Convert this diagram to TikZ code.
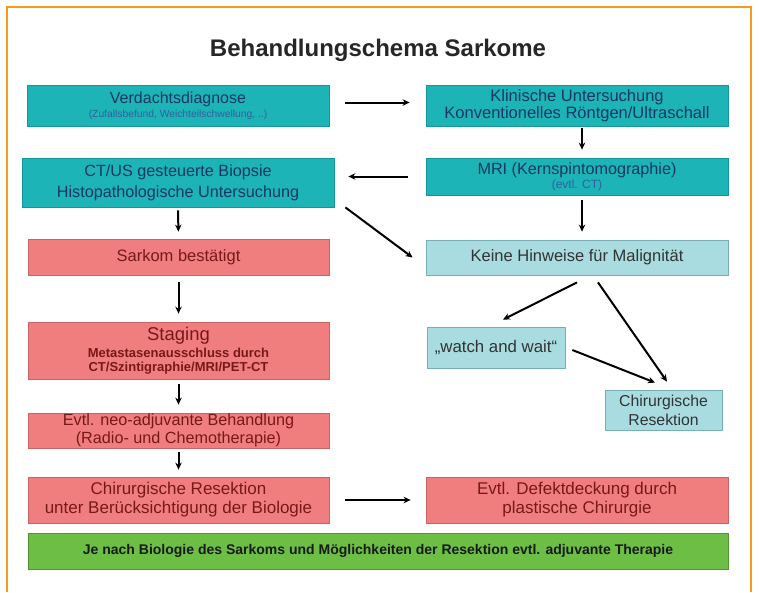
\documentclass[tikz,border=0pt]{standalone}
\usepackage{fontspec}
\setmainfont{Liberation Sans}
\usetikzlibrary{arrows.meta,calc}
\definecolor{tealbox}{RGB}{28,180,182}
\definecolor{tealedge}{RGB}{20,150,155}
\definecolor{lightteal}{RGB}{168,220,224}
\definecolor{lighttealedge}{RGB}{120,175,180}
\definecolor{salmon}{RGB}{240,126,126}
\definecolor{salmonedge}{RGB}{200,100,100}
\definecolor{greenbox}{RGB}{108,190,68}
\definecolor{greenedge}{RGB}{80,150,50}
\definecolor{navy}{RGB}{25,55,100}
\definecolor{subblue}{RGB}{50,95,160}
\definecolor{darkred}{RGB}{120,25,25}
\definecolor{framecol}{RGB}{247,155,30}
\tikzset{
  boxbase/.style={rectangle, inner sep=0pt, align=center, line width=0.8pt},
  tbox/.style={boxbase, fill=tealbox, draw=tealedge, text=navy},
  lbox/.style={boxbase, fill=lightteal, draw=lighttealedge, text=black!80},
  sbox/.style={boxbase, fill=salmon, draw=salmonedge, text=darkred},
  gbox/.style={boxbase, fill=greenbox, draw=greenedge, text=black!90},
  arr/.style={line width=2pt, -{Stealth[length=7pt,width=6.5pt]}},
  txt/.style={font=\fontsize{16.5}{19}\selectfont}
}
\begin{document}
\begin{tikzpicture}[x=1pt,y=-1pt]
\useasboundingbox (0,0) rectangle (759,592);
% frame
\draw[framecol, line width=2.5pt] (7,592) -- (7,7) -- (751,7) -- (751,592);
% title
\node[font=\fontsize{24}{28}\selectfont\bfseries, text=black!85] (title) at (378,50) {Behandlungschema Sarkome};
% boxes
\node[tbox, minimum width=302pt, minimum height=41pt] (v) at (178,105.5)
  {\fontsize{16}{17}\selectfont Verdachtsdiagnose\\[2pt]\fontsize{10.3}{12}\selectfont\color{subblue}(Zufallsbefund, Weichteilschwellung, ..)};
\node[tbox, minimum width=302pt, minimum height=41pt] (k) at (577,105.5)
  {\fontsize{16.5}{18.5}\selectfont Klinische Untersuchung\\[0.5pt]\fontsize{16.5}{18.5}\selectfont Konventionelles Röntgen/Ultraschall};
\node[tbox, font=\fontsize{16.2}{21}\selectfont, minimum width=312pt, minimum height=49pt] (ct) at (178,182.5)
  {CT/US gesteuerte Biopsie\\Histopathologische Untersuchung};
\node[tbox, minimum width=302pt, minimum height=37pt] (mri) at (577,176.5)
  {\fontsize{16.2}{17}\selectfont MRI (Kernspintomographie)\\[1pt]\fontsize{12}{13}\selectfont\color{subblue}(evtl. CT)};
\node[lbox, txt, minimum width=302pt, minimum height=35pt] (keine) at (577,257.5)
  {Keine Hinweise für Malignität};
\node[sbox, txt, minimum width=301pt, minimum height=36pt] (sark) at (178.5,257)
  {Sarkom bestätigt};
\node[sbox, minimum width=301pt, minimum height=57pt] (stag) at (178.5,350.5)
  {\fontsize{18.5}{20}\selectfont Staging\\[3pt]\fontsize{13}{15}\selectfont\bfseries Metastasenausschluss durch\\[2pt]\fontsize{13}{15}\selectfont\bfseries CT/Szintigraphie/MRI/PET-CT};
\node[sbox, font=\fontsize{16.2}{18}\selectfont, minimum width=301pt, minimum height=35pt] (neo) at (178.5,430.5)
  {Evtl. neo-adjuvante Behandlung\\(Radio- und Chemotherapie)};
\node[sbox, font=\fontsize{17}{19}\selectfont, minimum width=301pt, minimum height=46pt] (chir) at (178.5,500)
  {Chirurgische Resektion\\unter Berücksichtigung der Biologie};
\node[sbox, font=\fontsize{17}{19}\selectfont, minimum width=302pt, minimum height=46pt] (def) at (577,500)
  {Evtl. Defektdeckung durch\\plastische Chirurgie};
\node[gbox, font=\fontsize{14}{16}\selectfont\bfseries, minimum width=700pt, minimum height=36pt] (green) at (378,551)
  {Je nach Biologie des Sarkoms und Möglichkeiten der Resektion evtl. adjuvante Therapie};
\node[lbox, font=\fontsize{16.8}{19}\selectfont, minimum width=138pt, minimum height=41pt] (watch) at (496,347.5)
  {„watch and wait“};
\node[lbox, font=\fontsize{15.8}{19}\selectfont, minimum width=117pt, minimum height=40pt] (cres) at (663.5,410)
  {Chirurgische\\Resektion};
% connectors
\draw[arr, shorten <=16pt, shorten >=16pt] ($(v.east)+(0,-3)$) -- ($(k.west)+(0,-3)$);
\draw[arr, shorten <=2pt, shorten >=8pt] ($(k.south)+(5,0)$) -- ($(mri.north)+(5,0)$);
\draw[arr, shorten <=18pt, shorten >=14pt] (mri.west) -- (mri.west -| ct.east);
\draw[arr, shorten <=5pt, shorten >=8pt] ($(mri.south)+(5,0)$) -- ($(keine.north)+(5,0)$);
\draw[arr] ($(ct.south east)+(11,0)$) -- ($(keine.west)+(-13,0)$);
\draw[arr, shorten <=3pt, shorten >=7pt] (ct.south) -- (sark.north);
\draw[arr, shorten <=7pt, shorten >=8pt] (sark.south) -- (stag.north);
\draw[arr, shorten <=5pt, shorten >=8pt] (stag.south) -- (neo.north);
\draw[arr, shorten <=4pt, shorten >=7pt] (neo.south) -- (chir.north);
\draw[arr, shorten <=16pt, shorten >=15pt] (chir.east) -- (def.west);
\draw[arr] ($(keine.south)+(0,7)$) -- ($(watch.north)+(7,-7)$);
\draw[arr] ($(keine.south)+(21,7)$) -- ($(cres.north)+(3.5,-8)$);
\draw[arr] ($(watch.east)+(7,2.5)$) -- ($(cres.north)+(-8.5,-7)$);
\end{tikzpicture}
\end{document}
